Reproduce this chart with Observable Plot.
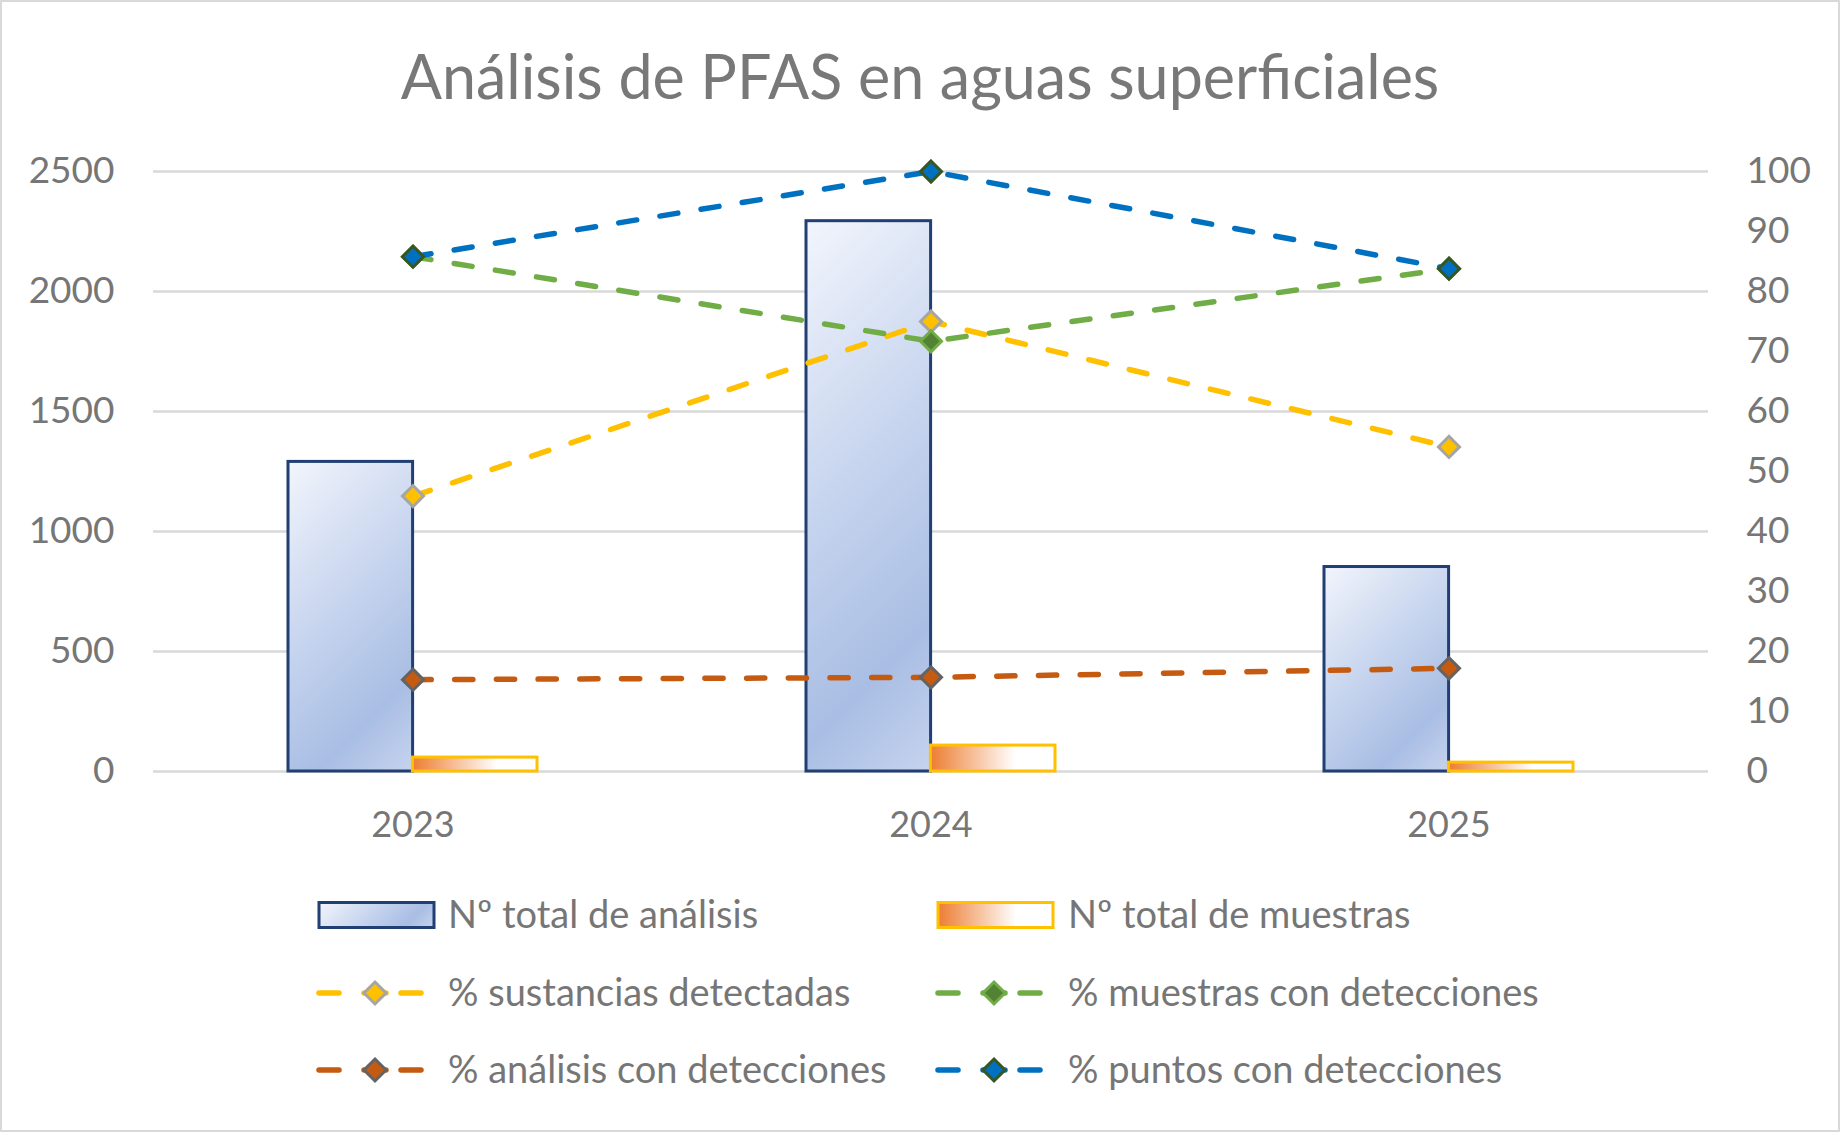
<!DOCTYPE html>
<html><head><meta charset="utf-8">
<script src="https://cdn.jsdelivr.net/npm/d3@7"></script>
<script src="https://cdn.jsdelivr.net/npm/@observablehq/plot@0.6"></script>
<style>
html,body{margin:0;padding:0;background:#fff;}
#chart{position:relative;width:1840px;height:1132px;background:#fff;font-family:Lato,"Open Sans",sans-serif;color:#767676;overflow:hidden;}
#border{position:absolute;left:0;top:0;width:1840px;height:1132px;box-sizing:border-box;border:2px solid #D9D9D9;pointer-events:none;}
#title{position:absolute;left:0;top:0;width:1840px;height:152px;line-height:152px;text-align:center;font-size:61px;color:#787878;}
#plot{position:absolute;left:0;top:100px;}
#legend{position:absolute;left:0;top:860px;}
</style></head>
<body>
<div id="chart">
  <svg width="0" height="0" style="position:absolute">
    <defs>
      <linearGradient id="gradM" x1="0" y1="0" x2="1" y2="0">
        <stop offset="0" stop-color="#ED7D31"/>
        <stop offset="0.68" stop-color="#FFFFFF"/>
        <stop offset="1" stop-color="#FFFFFF"/>
      </linearGradient>
    </defs>
  </svg>
  <div id="title">Análisis de PFAS en aguas superficiales</div>
  <div id="plot"></div>
  <svg id="legend" width="1840" height="272"></svg>
  <div id="border"></div>
</div>
<script>
// ---- data ----
const years = ["2023", "2024", "2025"];
const totalAnalisis = [1290, 2293, 852];
const totalMuestras = [58, 108, 37];
const pctSustancias = [45.9, 75.0, 54.1];
const pctMuestras = [85.8, 71.7, 83.8];
const pctAnalisis = [15.3, 15.7, 17.2];
const pctPuntos = [85.8, 100, 83.8];
const leftTicks = [0, 500, 1000, 1500, 2000, 2500];
const rightTicks = [0, 10, 20, 30, 40, 50, 60, 70, 80, 90, 100];
const barNames = ["Nº total de análisis", "Nº total de muestras"];
const lineNames = ["% sustancias detectadas", "% muestras con detecciones", "% análisis con detecciones", "% puntos con detecciones"];

// ---- styles ----
const lineColors = ["#FFC000", "#70AD47", "#C55A11", "#0070C0"];
const markerFill = ["#FFC000", "#548235", "#C55A11", "#0070C0"];
const markerStroke = ["#A5A5A5", "#70AD47", "#636363", "#375623"];
const lineW = 5.5;
const dash = "18.2,23.5";

const leftMax = 2500, rightMax = 100;
const k = leftMax / rightMax; // secondary axis factor

const barsA = years.map((year, i) => ({year, value: totalAnalisis[i]}));
const barsM = years.map((year, i) => ({year, value: totalMuestras[i]}));
const lineValues = [pctSustancias, pctMuestras, pctAnalisis, pctPuntos];
const lineData = lineValues.map(vals => years.map((year, i) => ({year, pct: vals[i]})));

const width = 1840, height = 761;
const mL = 153, mR = 132, mT = 71, mB = 90;
const pIn = 0.52, pOut = 0.26;
const step = (width - mL - mR) / (years.length - pIn + 2 * pOut);
const half = step * (1 - pIn) / 2;

const marks = [
  Plot.gridY(leftTicks, {stroke: "#D9D9D9", strokeOpacity: 1, strokeWidth: 2.5}),
  Plot.axisY(leftTicks, {anchor: "left", tickSize: 0, tickPadding: 39, fontSize: 37, tickFormat: d => String(d), label: null}),
  Plot.axisY(rightTicks.map(t => t * k), {anchor: "right", tickSize: 0, tickPadding: 38, fontSize: 37, tickFormat: d => String(d / k), label: null}),
  Plot.axisX({tickSize: 0, tickPadding: 40, fontSize: 36, label: null}),
  Plot.barY(barsA, {x: "year", y: "value", fill: "#B4C7E7", stroke: "#213F72", strokeWidth: 3, insetRight: half}),
  Plot.barY(barsM, {x: "year", y: "value", fill: "url(#gradM)", stroke: "#FFC000", strokeWidth: 3, insetLeft: half})
];
lineData.forEach((d, i) => {
  marks.push(Plot.line(d, {x: "year", y: p => p.pct * k, stroke: lineColors[i], strokeWidth: lineW, strokeDasharray: dash, strokeLinecap: "round"}));
  marks.push(Plot.dot(d, {x: "year", y: p => p.pct * k, symbol: "diamond2", r: 9.5, fill: markerFill[i], stroke: markerStroke[i], strokeWidth: 3}));
});

const chart = Plot.plot({
  width, height,
  marginLeft: mL, marginRight: mR, marginTop: mT, marginBottom: mB,
  style: {fontFamily: "Lato, 'Open Sans', sans-serif", color: "#767676", background: "transparent", fontSize: "36px"},
  x: {type: "band", domain: years, paddingInner: pIn, paddingOuter: pOut, label: null},
  y: {domain: [0, leftMax], label: null},
  marks
});
document.getElementById("plot").appendChild(chart);

// diagonal (45°) gradient for analisis bars, per rect
const defs = document.querySelector("#chart svg defs");
let gid = 0;
function diagGradient(x, y, w, h) {
  const id = "gradA" + (gid++);
  const g = document.createElementNS("http://www.w3.org/2000/svg", "linearGradient");
  g.setAttribute("id", id);
  g.setAttribute("gradientUnits", "userSpaceOnUse");
  g.setAttribute("x1", x); g.setAttribute("y1", y);
  g.setAttribute("x2", x + (w + h) / 2); g.setAttribute("y2", y + (w + h) / 2);
  [[0, "#F2F5FC"], [0.45, "#C6D4EE"], [0.78, "#A9BEE4"], [1, "#C6D3EE"]].forEach(([o, c]) => {
    const s = document.createElementNS("http://www.w3.org/2000/svg", "stop");
    s.setAttribute("offset", o); s.setAttribute("stop-color", c);
    g.appendChild(s);
  });
  defs.appendChild(g);
  return "url(#" + id + ")";
}
const barGroups = chart.querySelectorAll('g[aria-label="bar"]');
barGroups[0].querySelectorAll("rect").forEach(r => {
  const x = +r.getAttribute("x"), y = +r.getAttribute("y"), w = +r.getAttribute("width"), h = +r.getAttribute("height");
  r.setAttribute("fill", diagGradient(x, y, w, h));
});

// ---- legend ----
const lg = d3.select("#legend");
const top0 = 860;
const rowsY = [915, 993, 1070].map(v => v - top0);
const colSw = [319, 938], colText = [448, 1068];
const fs = 38;
// row 1: bar swatches
[0, 1].forEach(c => {
  const x = colSw[c], y = rowsY[0] - 12.5, w = 115, h = 25;
  lg.append("rect").attr("x", x).attr("y", y).attr("width", w).attr("height", h)
    .attr("fill", c === 0 ? diagGradient(x, y, w, h) : "url(#gradM)")
    .attr("stroke", c === 0 ? "#213F72" : "#FFC000").attr("stroke-width", 3);
  lg.append("text").attr("x", colText[c]).attr("y", rowsY[0]).attr("dy", "0.35em")
    .attr("font-size", fs).attr("fill", "#767676").text(barNames[c]);
});
// rows 2,3: line swatches
lineNames.forEach((name, i) => {
  const row = 1 + Math.floor(i / 2), c = i % 2;
  const y = rowsY[row];
  const x0 = colSw[c] - 2;
  const cx = x0 + 58;
  const seg = (a, b) => lg.append("line").attr("x1", a).attr("x2", b).attr("y1", y).attr("y2", y)
    .attr("stroke", lineColors[i]).attr("stroke-width", lineW).attr("stroke-linecap", "round");
  seg(x0 + 2, x0 + 22);
  seg(cx - 11, cx + 11);
  seg(x0 + 84, x0 + 104);
  const r = 11;
  lg.append("path").attr("d", `M${cx},${y - r}L${cx + r},${y}L${cx},${y + r}L${cx - r},${y}Z`)
    .attr("fill", markerFill[i]).attr("stroke", markerStroke[i]).attr("stroke-width", 3);
  lg.append("text").attr("x", colText[c]).attr("y", y).attr("dy", "0.35em")
    .attr("font-size", fs).attr("fill", "#767676").text(name);
});
</script>
</body></html>
